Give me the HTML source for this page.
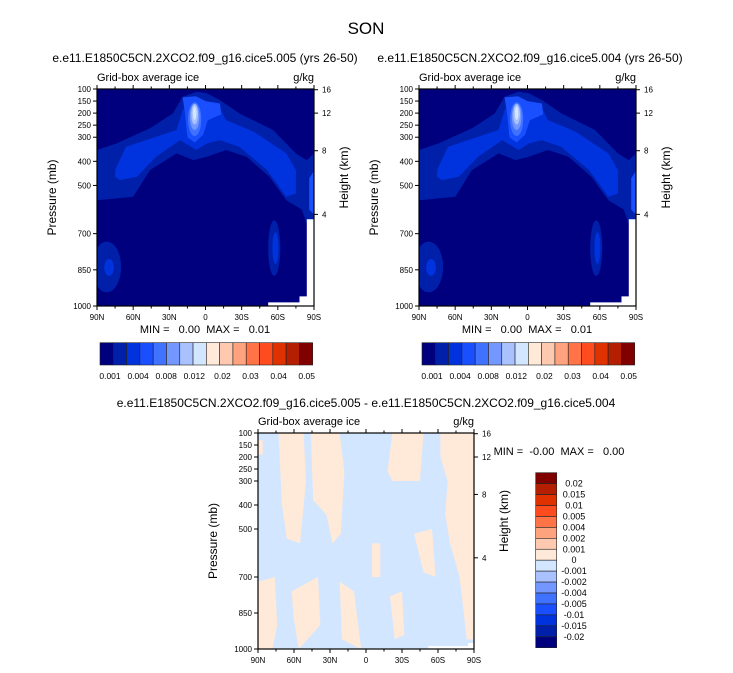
<!DOCTYPE html>
<html><head><meta charset="utf-8"><style>
html,body{margin:0;padding:0;background:#fff;}
svg{display:block;font-family:"Liberation Sans",sans-serif;}
.pre{white-space:pre;}
</style></head><body>
<svg id="c" width="733" height="673" viewBox="0 0 733 673" xmlns="http://www.w3.org/2000/svg"></svg>
<script>
// ---- data ----
const pTicks = [100,150,200,250,300,400,500,700,850,1000];
const hTicks = [16,12,8,4];
const hTickP = [103,200,356,620];
const latTicks = [90,60,30,0,-30,-60,-90];
const latLabels = ["90N","60N","30N","0","30S","60S","90S"];
const palette = ['#00007f','#0020aa','#0033dd','#1a4fff','#3f72ff','#7396ff','#a9c2ff','#d3e6ff','#ffe9d8','#ffc9b0','#ffa27e','#ff7346','#ff4c1e','#e03200','#b31f00','#800000'];
const topLevels = ["0.001","0.004","0.008","0.012","0.02","0.03","0.04","0.05"];
const diffLevels = ["0.02","0.015","0.01","0.005","0.004","0.002","0.001","0","-0.001","-0.002","-0.004","-0.005","-0.01","-0.015","-0.02"];
const bandOuter = [[90,353],[74,326],[46,263],[27,201],[19,132],[7.5,111],[-1,118],[-12,146],[-28,201],[-56,270],[-75,367],[-84,395],[-90,367],[-90,644],[-84,660],[-80,600],[-67,561],[-53,464],[-34,381],[-17,353],[-1,381],[10,395],[24,367],[46,436],[60,547],[90,561]];
const bandInner = [[75,436],[66,340],[41,298],[24,270],[19,187],[10,146],[2,160],[-12,180],[-17,229],[-40,277],[-67,367],[-75,436],[-75,533],[-67,547],[-51,436],[-28,340],[-12,312],[-1,326],[7.5,353],[21,312],[41,381],[57,464],[71,478],[75,464]];
const bandEdge = [[-86,470],[-90,440],[-90,620],[-86,600]];
const coreBlob = [[19,135],[8,130],[0,150],[-12,160],[-13,205],[-2,230],[2,290],[9,322],[15,300],[17,200]];
const ellipses = [[9,225,5.5,70,4],[9,215,4,55,5],[9,205,2.8,42,6],[9,200,1.5,28,7],
  [82,838,12,105,1],[80,840,4,35,2],[-57,760,5,115,1],[-58,760,2.5,65,2]];
const whiteArea = [[-52,985],[-78,985],[-78,960],[-84,960],[-84,640],[-90,640],[-90,1000],[-52,1000]];
const creamPatches = [
 [[73,100],[52,100],[50,300],[55,560],[66,540],[70,400]],
 [[46,100],[22,100],[18,260],[21,520],[28,560],[33,440],[44,380]],
 [[8,100],[-22,100],[-18,260],[-22,300],[-45,300],[-48,100]],
 [[-62,100],[-90,100],[-90,960],[-84,960],[-78,700],[-70,560],[-66,440],[-68,300],[-62,200]],
 [[90,720],[76,700],[74,900],[78,1000],[90,1000]],
 [[62,760],[40,700],[38,900],[56,1000],[60,880]],
 [[22,720],[10,760],[4,1000],[20,960]],
 [[-40,520],[-55,500],[-58,700],[-48,680]],
 [[-20,780],[-30,760],[-32,940],[-24,960]],
 [[-5,560],[-12,560],[-12,700],[-5,700]],
 [[90,130],[86,130],[86,190],[90,190]]
];

const NS='http://www.w3.org/2000/svg';
const svg=document.getElementById('c');
function el(tag,attrs,parent,txt){const e=document.createElementNS(NS,tag);for(const k in attrs)e.setAttribute(k,attrs[k]);if(txt!==undefined)e.textContent=txt;(parent||svg).appendChild(e);return e;}

function drawPanel(x0,y0,W,H,name,diff){
  const g=el('g',{},svg);
  
  
  const X=lat=>x0+(90-lat)/180*W;
  const Y=p=>y0+(p-100)/900*H;
  const clip='cl'+name;
  const cp=el('clipPath',{id:clip},g);el('rect',{x:x0,y:y0,width:W,height:H},cp);
  const pg=el('g',{'clip-path':'url(#'+clip+')'},g);
  const polyIn=(pts,fill,nm)=>{const e=el('polygon',{points:pts.map(q=>X(q[0]).toFixed(1)+','+Y(q[1]).toFixed(1)).join(' '),fill:fill},pg);
    };
  if(!diff){
    el('rect',{x:x0,y:y0,width:W,height:H,fill:palette[0]},pg);
    polyIn(bandOuter,palette[1],'contour-band-1');
    polyIn(bandInner,palette[2],'contour-band-2');
    polyIn(bandEdge,palette[3],'contour-band-edge');
    polyIn(coreBlob,palette[3],'contour-core');
    ellipses.forEach(e=>{const o=el('ellipse',{cx:X(e[0]),cy:Y(e[1]),rx:e[2]/180*W,ry:e[3]/900*H,fill:palette[e[4]]},pg);
      });
    polyIn(whiteArea,'#ffffff','missing-data');
  } else {
    el('rect',{x:x0,y:y0,width:W,height:H,fill:palette[7]},pg);
    creamPatches.forEach(c=>polyIn(c,palette[8],'positive-patch'));
    polyIn([[-52,988],[-90,988],[-90,1000],[-52,1000]],'#ffffff','missing-data');
    polyIn([[-85,975],[-90,975],[-90,988],[-85,988]],'#ffffff','missing-data');
  }
  el('rect',{x:x0,y:y0,width:W,height:H,fill:'none',stroke:'#000','stroke-width':1.2},g);
  pTicks.forEach(p=>{el('line',{x1:x0-4,x2:x0,y1:Y(p),y2:Y(p),stroke:'#000'},g);
    el('text',{x:x0-6,y:Y(p)+3,'font-size':8,'text-anchor':'end'},g,String(p));});
  hTicks.forEach((h,i)=>{el('line',{x1:x0+W,x2:x0+W+4,y1:Y(hTickP[i]),y2:Y(hTickP[i]),stroke:'#000'},g);
    el('text',{x:x0+W+8,y:Y(hTickP[i])+3,'font-size':8},g,String(h));});
  latTicks.forEach((l,i)=>{el('line',{x1:X(l),x2:X(l),y1:y0+H,y2:y0+H+4,stroke:'#000'},g);
    el('line',{x1:X(l),x2:X(l),y1:y0,y2:y0-4,stroke:'#000'},g);
    el('text',{x:X(l),y:y0+H+14,'font-size':8,'text-anchor':'middle'},g,latLabels[i]);});
  for(let l=75;l>-90;l-=15){ if(l%30===0)continue;
    el('line',{x1:X(l),x2:X(l),y1:y0+H,y2:y0+H+2.5,stroke:'#000'},g);
    el('line',{x1:X(l),x2:X(l),y1:y0,y2:y0-2.5,stroke:'#000'},g);}
  const t1=el('text',{x:x0,y:y0-8,'font-size':11},g,'Grid-box average ice');
  
  el('text',{x:x0+W,y:y0-8,'font-size':11,'text-anchor':'end'},g,'g/kg');
  const yt=el('text',{x:0,y:0,'font-size':12,'text-anchor':'middle',transform:`translate(${x0-41},${y0+H/2}) rotate(-90)`},g,'Pressure (mb)');
  
  const ht=el('text',{x:0,y:0,'font-size':12,'text-anchor':'middle',transform:`translate(${x0+W+34},${y0+H/2-20}) rotate(-90)`},g,'Height (km)');
  
}

const title=el('text',{x:366,y:34,'font-size':17,'text-anchor':'middle'},svg,'SON');

const s1=el('text',{x:205,y:62,'font-size':12,'text-anchor':'middle'},svg,'e.e11.E1850C5CN.2XCO2.f09_g16.cice5.005 (yrs 26-50)');

const s2=el('text',{x:530,y:62,'font-size':12,'text-anchor':'middle'},svg,'e.e11.E1850C5CN.2XCO2.f09_g16.cice5.004 (yrs 26-50)');

const s3=el('text',{x:366,y:407,'font-size':12,'text-anchor':'middle'},svg,'e.e11.E1850C5CN.2XCO2.f09_g16.cice5.005 - e.e11.E1850C5CN.2XCO2.f09_g16.cice5.004');


drawPanel(97,89,217,217,'left-panel',false);
drawPanel(419,89,217,217,'right-panel',false);
drawPanel(258,433,216,216,'difference-panel',true);

[0,322].forEach(dx=>{
  const m=el('text',{x:205+dx,y:333,'font-size':11,'text-anchor':'middle','class':'pre'},svg,'MIN =   0.00  MAX =   0.01');
  
  const cb=el('g',{},svg);
  
  const bw=212.7/palette.length;
  palette.forEach((c,i)=>el('rect',{x:100+dx+i*bw,y:342.7,width:bw,height:22.3,fill:c,stroke:'#222','stroke-width':0.6},cb));
  topLevels.forEach((t,i)=>el('text',{x:110+dx+i*28.1,y:379,'font-size':8.5,'text-anchor':'middle'},cb,t));
});
const m3=el('text',{x:559,y:455,'font-size':11,'text-anchor':'middle','class':'pre'},svg,'MIN =  -0.00  MAX =   0.00');

const vb=el('g',{},svg);

const bh=175/palette.length;
palette.slice().reverse().forEach((c,i)=>el('rect',{x:535.7,y:472.7+i*bh,width:21,height:bh,fill:c,stroke:'#222','stroke-width':0.6},vb));
diffLevels.forEach((t,i)=>el('text',{x:574,y:472.7+(i+1)*bh+3,'font-size':9,'text-anchor':'middle'},vb,t));
</script>
</body></html>
